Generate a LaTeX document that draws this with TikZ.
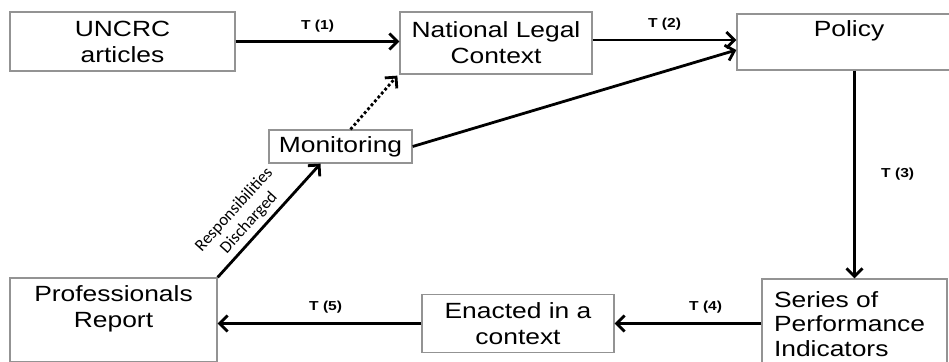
\documentclass[tikz,border=0pt]{standalone}
\usepackage{fontspec}
\setmainfont{Liberation Sans}[FakeStretch=1.2]
\newfontfamily\calfont{Carlito}
\usetikzlibrary{positioning,arrows.meta}

\tikzset{
  box/.style={draw=gray!85, line width=1.3pt, align=center, inner sep=0pt,
    font=\fontsize{22}{26}\selectfont},
  flow/.style={line width=2.8pt, -{Straight Barb[length=8pt,width=16pt]}},
  tlabel/.style={font=\bfseries\fontsize{13}{15}\selectfont}
}

\begin{document}
\begin{tikzpicture}[x=1pt,y=-1pt]
    \useasboundingbox (0,0) rectangle (949,361);
    \clip (0,0) rectangle (949,361);
    % boxes
    \node[box, minimum width=225pt, minimum height=59pt] (uncrc) at (122.5,41.5) {UNCRC\\articles};
    \node[box, minimum width=192pt, minimum height=62pt] (nlc) at (496,43) {National Legal\\Context};
    \node[box, minimum width=224pt, minimum height=56pt] (policy) at (849,42) {Policy\\\mbox{}};
    \node[box, minimum width=143pt, minimum height=33pt] (mon) at (340.5,146.5) {Monitoring};
    \node[box, minimum width=207pt, minimum height=84pt] (report) at (113.5,320) {Professionals\\Report\\\mbox{}};
    \node[box, minimum width=192pt, minimum height=58pt] (enacted) at (518,323.5) {Enacted in a\\context};
    \node[box, align=left, text width=161pt, inner xsep=12pt, minimum height=90pt,
        font=\fontsize{22}{24.5}\selectfont] (series) at (854.5,324) {Series of\\Performance\\Indicators};
    % transitions
    \draw[flow] (uncrc) -- (nlc.west |- uncrc) node[midway, above=5pt, tlabel] {T (1)};
    \draw[flow] ([yshift=3pt]nlc.east) -- ([yshift=3pt]nlc.east -| policy.west)
        node[midway, above=5pt, tlabel] {T (2)};
    \draw[flow] (series.north |- policy.south) -- (series.north)
        node[midway, right=22pt, tlabel] {T (3)};
    \draw[flow] (series.west |- enacted.east) -- (enacted.east)
        node[pos=0.38, above=6pt, tlabel] {T (4)};
    \draw[flow] (enacted.west) -- (enacted.west -| report.east)
        node[pos=0.47, above=6pt, tlabel] {T (5)};
    % monitoring loop
    \draw[flow] (report.north east) -- ([xshift=-20pt]mon.south)
        node[pos=0.4, sloped, above=1pt, align=center, font=\calfont\fontsize{17}{20}\selectfont]
        {Responsibilities\\Discharged};
    \draw[flow] (mon.east) -- ([yshift=-8pt]policy.west);
    \draw[flow, dash pattern=on 2.8pt off 2.4pt] ([xshift=10pt]mon.north) -- ([xshift=-2pt,yshift=-1pt]nlc.south west);
\end{tikzpicture}
\end{document}
